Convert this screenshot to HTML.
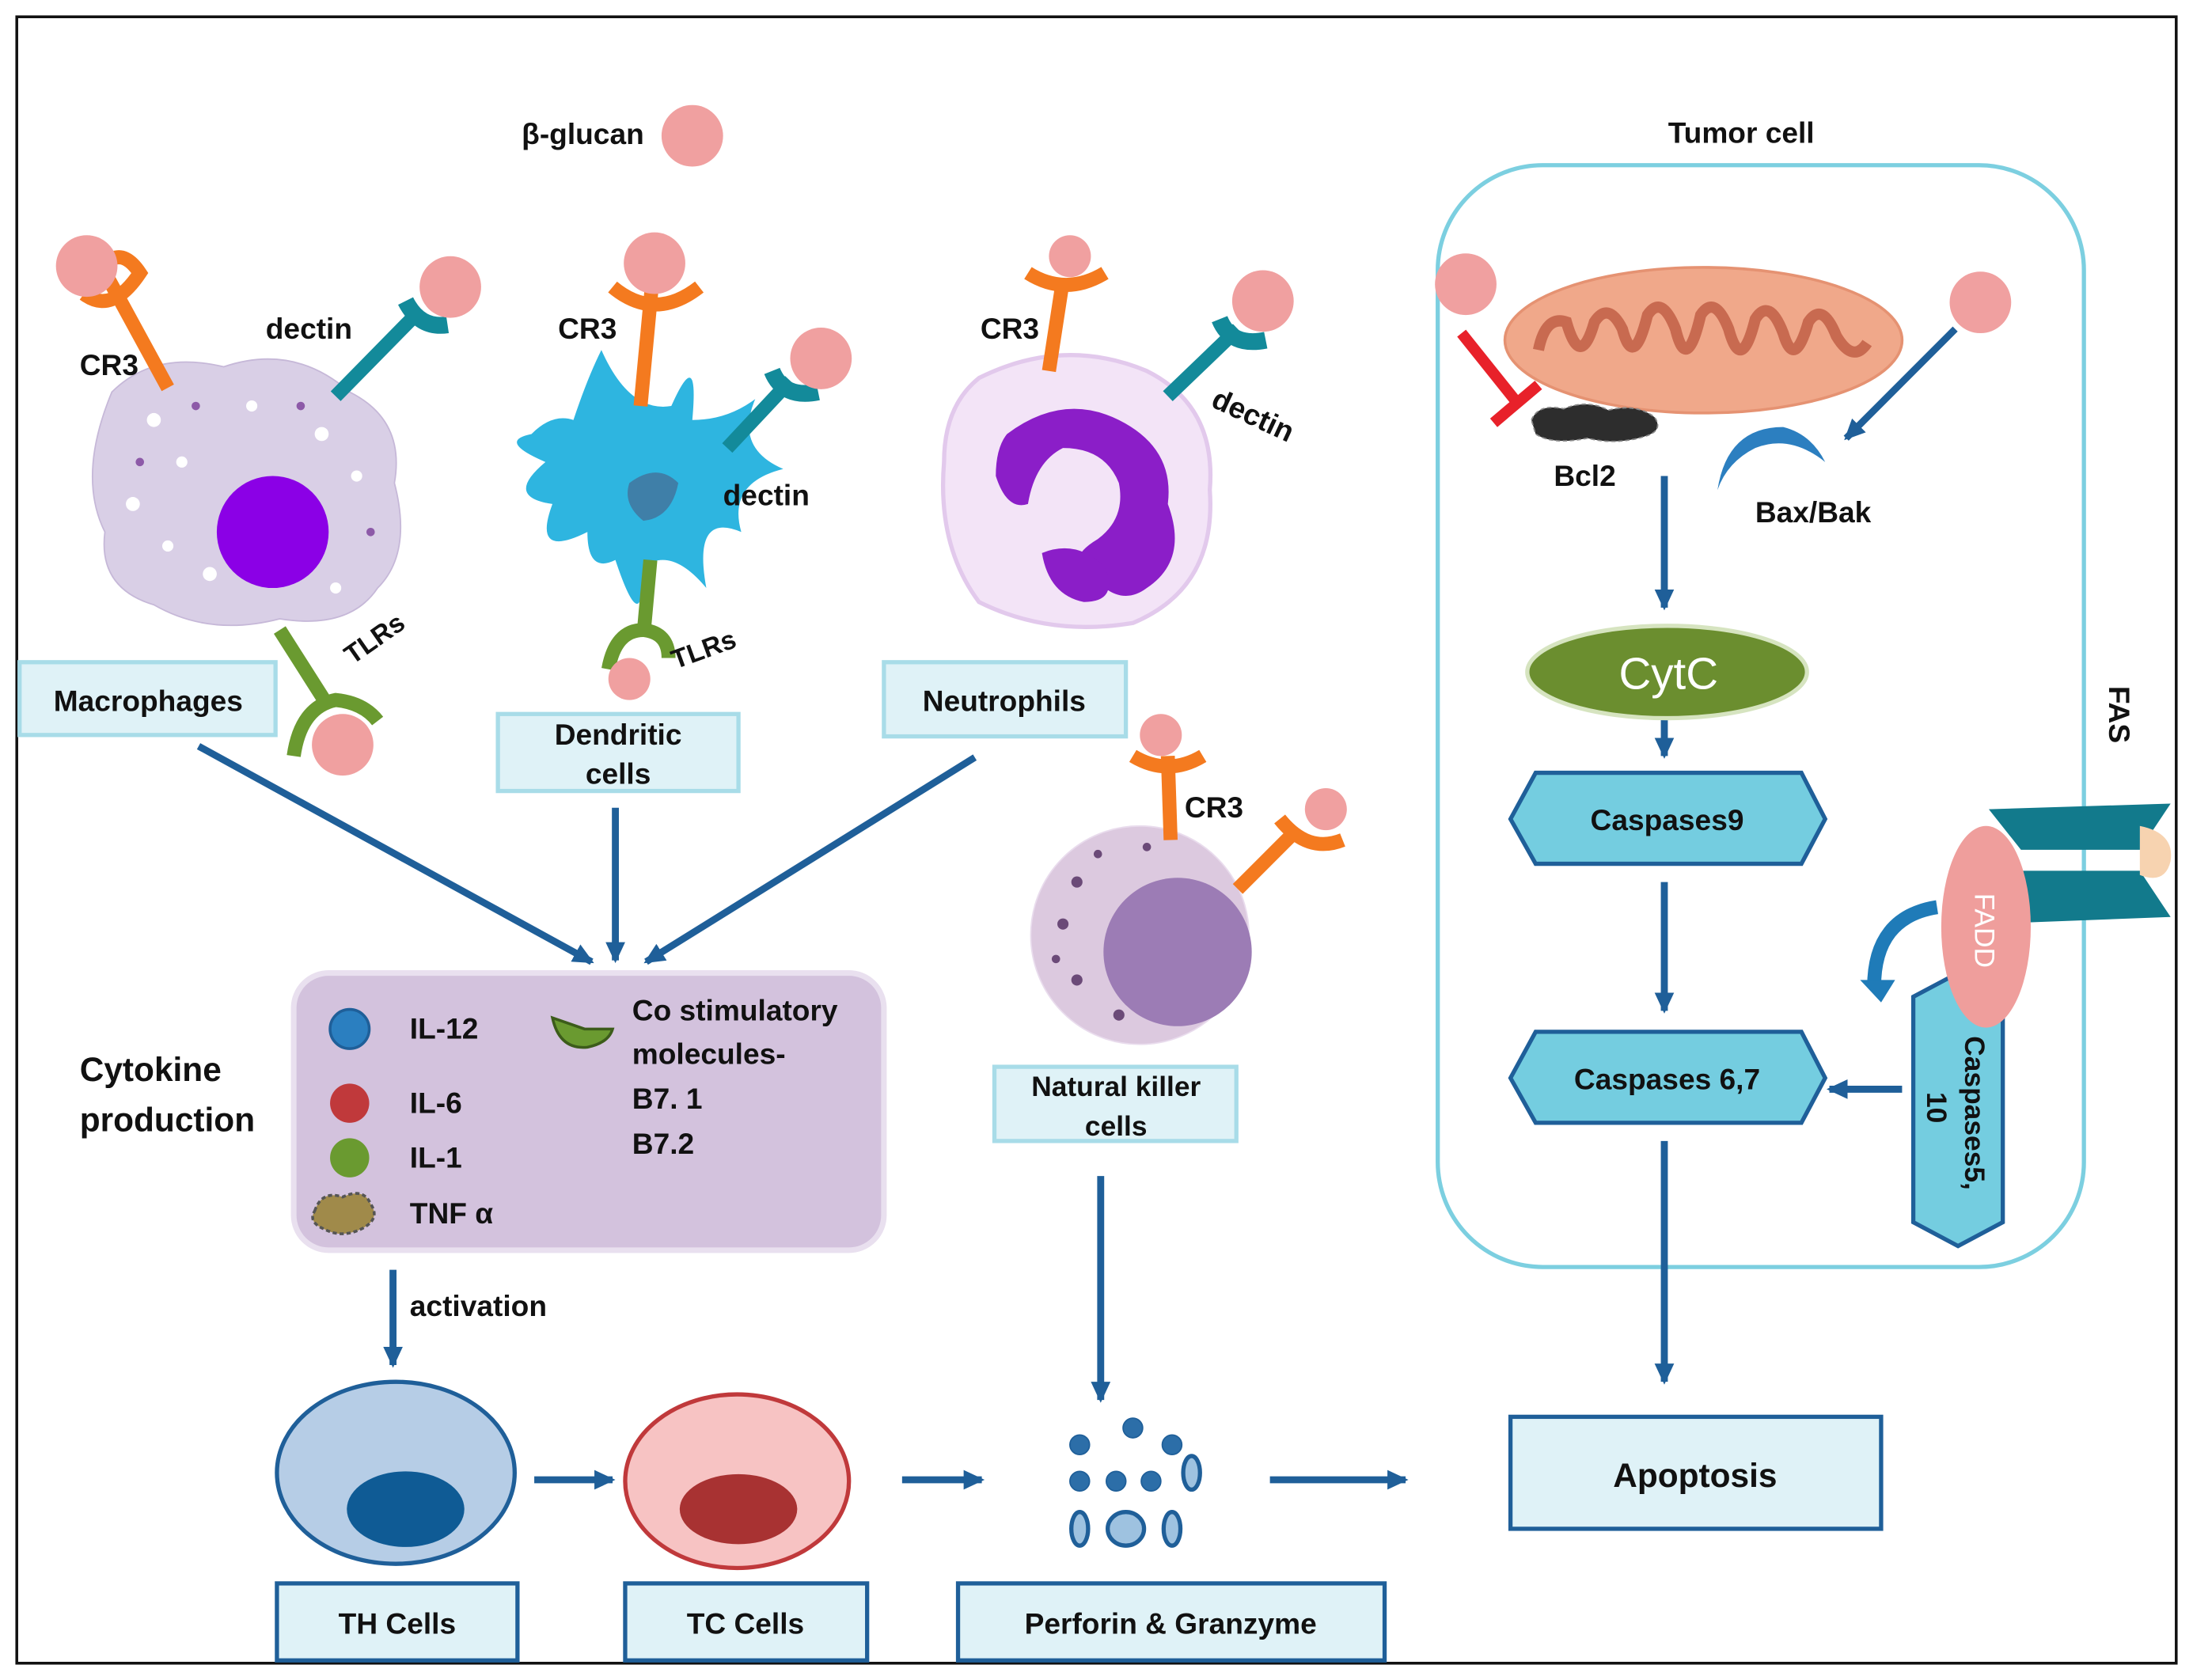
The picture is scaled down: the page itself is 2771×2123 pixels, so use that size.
<!DOCTYPE html>
<html><head><meta charset="utf-8"><style>
html,body{margin:0;padding:0;background:#fff}
svg{display:block}
text{font-family:"Liberation Sans",sans-serif;font-weight:bold;fill:#111}
</style></head><body>
<svg width="2771" height="2123" viewBox="0 0 1568 1200" preserveAspectRatio="none" xmlns="http://www.w3.org/2000/svg">
<defs>
<marker id="ah" markerWidth="16" markerHeight="14" refX="13" refY="7" orient="auto" markerUnits="userSpaceOnUse">
<path d="M0,0 L15,7 L0,14 Z" fill="#1f5f99"/></marker>
</defs>
<rect x="0" y="0" width="1568" height="1200" fill="#fff"/>
<rect x="12" y="12" width="1544" height="1176" fill="none" stroke="#111" stroke-width="2"/>

<rect x="1028" y="118" width="462" height="787" rx="75" fill="none" stroke="#7ccfe0" stroke-width="3"/>
<text x="1245" y="102" font-size="21" text-anchor="middle">Tumor cell</text>

<text x="373" y="103" font-size="21">β-glucan</text>
<circle cx="495" cy="97" r="22" fill="#f0a0a0"/>

<path d="M80,280 Q110,250 160,262 Q210,245 250,280 Q290,300 282,345 Q295,395 270,420 Q250,450 200,442 Q150,455 110,432 Q70,420 75,380 Q55,340 80,280 Z" fill="#d9cfe6" stroke="#c6b8d8"/>
<g fill="#fff"><circle cx="110" cy="300" r="5"/><circle cx="130" cy="330" r="4"/><circle cx="95" cy="360" r="5"/><circle cx="230" cy="310" r="5"/><circle cx="255" cy="340" r="4"/><circle cx="150" cy="410" r="5"/><circle cx="240" cy="420" r="4"/><circle cx="120" cy="390" r="4"/><circle cx="180" cy="290" r="4"/></g>
<g fill="#8d5aa8"><circle cx="140" cy="290" r="3"/><circle cx="215" cy="290" r="3"/><circle cx="100" cy="330" r="3"/><circle cx="265" cy="380" r="3"/></g>
<circle cx="195" cy="380" r="40" fill="#8b00e6"/>
<line x1="78" y1="200" x2="120" y2="277" stroke="#f47a1f" stroke-width="10"/>
<path d="M60,210 Q80,225 100,195 Q90,180 80,185" fill="none" stroke="#f47a1f" stroke-width="10"/>
<circle cx="62" cy="190" r="22" fill="#f0a0a0"/>
<text x="57" y="268" font-size="21">CR3</text>
<line x1="240" y1="283" x2="300" y2="222" stroke="#138a9a" stroke-width="10"/>
<path d="M290,215 Q300,235 320,232" fill="none" stroke="#138a9a" stroke-width="12"/>
<circle cx="322" cy="205" r="22" fill="#f0a0a0"/>
<text x="190" y="242" font-size="21">dectin</text>
<line x1="200" y1="450" x2="235" y2="505" stroke="#6a9a30" stroke-width="10"/>
<path d="M210,540 Q215,505 240,500 Q260,502 270,515" fill="none" stroke="#6a9a30" stroke-width="10"/>
<circle cx="245" cy="532" r="22" fill="#f0a0a0"/>
<text x="252" y="475" font-size="19" transform="rotate(-35 252 475)">TLRs</text>

<path d="M430,250 Q450,295 480,290 Q500,245 495,300 Q520,300 540,285 Q525,320 560,335 Q520,345 530,380 Q495,365 505,420 Q480,390 460,405 Q460,460 440,400 Q420,410 420,380 Q380,400 395,360 Q360,355 390,330 Q355,315 380,310 Q395,295 410,300 Q420,270 430,250 Z" fill="#2eb5e0"/>
<path d="M450,345 Q470,330 485,345 Q480,370 460,372 Q445,360 450,345 Z" fill="#3f7fa8"/>
<line x1="458" y1="290" x2="466" y2="205" stroke="#f47a1f" stroke-width="10"/>
<path d="M438,205 Q468,230 500,205" fill="none" stroke="#f47a1f" stroke-width="10"/>
<circle cx="468" cy="188" r="22" fill="#f0a0a0"/>
<text x="399" y="242" font-size="21">CR3</text>
<line x1="520" y1="320" x2="565" y2="272" stroke="#138a9a" stroke-width="10"/>
<path d="M552,265 Q560,285 585,280" fill="none" stroke="#138a9a" stroke-width="12"/>
<circle cx="587" cy="256" r="22" fill="#f0a0a0"/>
<text x="517" y="361" font-size="21">dectin</text>
<line x1="465" y1="400" x2="460" y2="455" stroke="#6a9a30" stroke-width="10"/>
<path d="M435,478 Q440,450 460,450 Q478,452 478,470" fill="none" stroke="#6a9a30" stroke-width="10"/>
<circle cx="450" cy="485" r="15" fill="#f0a0a0"/>
<text x="483" y="478" font-size="19" transform="rotate(-20 483 478)">TLRs</text>

<path d="M700,270 Q760,240 820,265 Q870,290 865,350 Q870,420 810,445 Q750,455 700,430 Q670,390 675,330 Q675,290 700,270 Z" fill="#f3e4f7" stroke="#e2c9ec" stroke-width="3"/>
<path d="M720,310 Q760,280 800,300 Q840,320 835,360 Q850,400 820,420 Q800,435 780,410 Q760,400 785,385 Q805,370 800,345 Q790,320 760,320 Q740,330 735,360 Q720,365 712,340 Q712,320 720,310 Z" fill="#8b1ec8"/>
<path d="M745,395 Q770,385 790,405 Q800,430 775,430 Q750,425 745,395 Z" fill="#8b1ec8"/>
<line x1="750" y1="265" x2="760" y2="200" stroke="#f47a1f" stroke-width="10"/>
<path d="M735,195 Q762,212 790,195" fill="none" stroke="#f47a1f" stroke-width="10"/>
<circle cx="765" cy="183" r="15" fill="#f0a0a0"/>
<text x="701" y="242" font-size="21">CR3</text>
<line x1="835" y1="283" x2="885" y2="235" stroke="#138a9a" stroke-width="10"/>
<path d="M872,228 Q880,248 905,243" fill="none" stroke="#138a9a" stroke-width="12"/>
<circle cx="903" cy="215" r="22" fill="#f0a0a0"/>
<text x="865" y="290" font-size="21" transform="rotate(25 865 290)">dectin</text>

<circle cx="815" cy="668" r="78" fill="#dcc9df" stroke="#e9dced"/>
<circle cx="842" cy="680" r="53" fill="#9c7cb5"/>
<g fill="#6b4a78"><circle cx="770" cy="630" r="4"/><circle cx="760" cy="660" r="4"/><circle cx="785" cy="610" r="3"/><circle cx="770" cy="700" r="4"/><circle cx="800" cy="725" r="4"/><circle cx="755" cy="685" r="3"/><circle cx="820" cy="605" r="3"/></g>
<line x1="837" y1="600" x2="835" y2="540" stroke="#f47a1f" stroke-width="10"/>
<path d="M810,540 Q835,555 860,540" fill="none" stroke="#f47a1f" stroke-width="10"/>
<circle cx="830" cy="525" r="15" fill="#f0a0a0"/>
<line x1="885" y1="635" x2="925" y2="595" stroke="#f47a1f" stroke-width="10"/>
<path d="M915,585 Q935,610 960,600" fill="none" stroke="#f47a1f" stroke-width="10"/>
<circle cx="948" cy="578" r="15" fill="#f0a0a0"/>
<text x="847" y="584" font-size="21">CR3</text>

<g fill="#dff2f7" stroke="#a8dce8" stroke-width="3">
<rect x="14" y="473" width="183" height="52"/>
<rect x="356" y="510" width="172" height="55"/>
<rect x="632" y="473" width="173" height="53"/>
<rect x="711" y="762" width="173" height="53"/>
</g>
<text x="106" y="508" font-size="21" text-anchor="middle">Macrophages</text>
<text x="442" y="532" font-size="21" text-anchor="middle">Dendritic</text>
<text x="442" y="560" font-size="21" text-anchor="middle">cells</text>
<text x="718" y="508" font-size="21" text-anchor="middle">Neutrophils</text>
<text x="798" y="783" font-size="20" text-anchor="middle">Natural killer</text>
<text x="798" y="811" font-size="20" text-anchor="middle">cells</text>

<rect x="210" y="695" width="422" height="198" rx="25" fill="#d3c2dd" stroke="#e9e0ef" stroke-width="4"/>
<text x="57" y="772" font-size="24">Cytokine</text>
<text x="57" y="808" font-size="24">production</text>
<circle cx="250" cy="735" r="14" fill="#2b7fc0" stroke="#1f5f99" stroke-width="2"/>
<circle cx="250" cy="788" r="14" fill="#c0393b"/>
<circle cx="250" cy="827" r="14" fill="#6a9a30"/>
<path d="M225,865 Q230,850 245,855 Q260,848 265,860 Q272,870 260,877 Q245,885 232,878 Q220,873 225,865 Z" fill="#a08a4a" stroke="#555" stroke-width="2" stroke-dasharray="3 2"/>
<text x="293" y="742" font-size="21">IL-12</text>
<text x="293" y="795" font-size="21">IL-6</text>
<text x="293" y="834" font-size="21">IL-1</text>
<text x="293" y="874" font-size="21">TNF α</text>
<path d="M395,727 Q400,750 420,748 Q435,745 438,735 L418,735 Z" fill="#6a9a30" stroke="#3c5c1a" stroke-width="2"/>
<text x="452" y="729" font-size="21">Co stimulatory</text>
<text x="452" y="760" font-size="21">molecules-</text>
<text x="452" y="792" font-size="21">B7. 1</text>
<text x="452" y="824" font-size="21">B7.2</text>

<g stroke="#1f5f99" stroke-width="5" fill="none" marker-end="url(#ah)">
<line x1="142" y1="533" x2="423" y2="687"/>
<line x1="440" y1="577" x2="440" y2="686"/>
<line x1="697" y1="541" x2="462" y2="687"/>
<line x1="281" y1="907" x2="281" y2="975"/>
<line x1="382" y1="1057" x2="438" y2="1057"/>
<line x1="645" y1="1057" x2="702" y2="1057"/>
<line x1="908" y1="1057" x2="1005" y2="1057"/>
<line x1="787" y1="840" x2="787" y2="1000"/>
<line x1="1190" y1="340" x2="1190" y2="434"/>
<line x1="1190" y1="513" x2="1190" y2="540"/>
<line x1="1190" y1="630" x2="1190" y2="722"/>
<line x1="1190" y1="815" x2="1190" y2="987"/>
<line x1="1360" y1="778" x2="1308" y2="778"/>
<line x1="1398" y1="235" x2="1320" y2="313"/>
</g>
<text x="293" y="940" font-size="21">activation</text>

<ellipse cx="283" cy="1052" rx="85" ry="65" fill="#b6cde6" stroke="#1f5f99" stroke-width="3"/>
<ellipse cx="290" cy="1078" rx="42" ry="27" fill="#0f5b95"/>
<ellipse cx="527" cy="1058" rx="80" ry="62" fill="#f7c3c3" stroke="#c0393b" stroke-width="3"/>
<ellipse cx="528" cy="1078" rx="42" ry="25" fill="#a83232"/>
<g fill="#2c6ea8" stroke="#1f5f99">
<circle cx="772" cy="1032" r="7"/><circle cx="810" cy="1020" r="7"/><circle cx="838" cy="1032" r="7"/>
<circle cx="772" cy="1058" r="7"/><circle cx="798" cy="1058" r="7"/><circle cx="823" cy="1058" r="7"/>
</g>
<g fill="#9ec2e0" stroke="#1f5f99" stroke-width="3">
<ellipse cx="852" cy="1052" rx="6" ry="12"/><ellipse cx="772" cy="1092" rx="6" ry="12"/><ellipse cx="805" cy="1092" rx="13" ry="12"/><ellipse cx="838" cy="1092" rx="6" ry="12"/>
</g>
<g fill="#dff2f7" stroke="#1f5f99" stroke-width="3">
<rect x="198" y="1131" width="172" height="55"/>
<rect x="447" y="1131" width="173" height="55"/>
<rect x="685" y="1131" width="305" height="55"/>
<rect x="1080" y="1012" width="265" height="80"/>
</g>
<text x="284" y="1167" font-size="21" text-anchor="middle">TH Cells</text>
<text x="533" y="1167" font-size="21" text-anchor="middle">TC Cells</text>
<text x="837" y="1167" font-size="21" text-anchor="middle">Perforin  &amp; Granzyme</text>
<text x="1212" y="1062" font-size="24" text-anchor="middle">Apoptosis</text>

<ellipse cx="1218" cy="243" rx="142" ry="52" fill="#f0a88a" stroke="#e59272" stroke-width="2"/>
<path d="M1100,250 Q1105,225 1120,230 Q1130,265 1140,230 Q1150,215 1160,235 Q1168,265 1178,225 Q1188,210 1198,235 Q1206,268 1216,225 Q1226,210 1236,235 Q1245,268 1255,228 Q1265,212 1275,238 Q1283,265 1293,230 Q1303,215 1313,240 Q1325,260 1335,245" fill="none" stroke="#c86a50" stroke-width="8"/>
<circle cx="1048" cy="203" r="22" fill="#f0a0a0"/>
<circle cx="1416" cy="216" r="22" fill="#f0a0a0"/>
<line x1="1045" y1="238" x2="1085" y2="288" stroke="#e8212a" stroke-width="8"/>
<line x1="1068" y1="302" x2="1100" y2="275" stroke="#e8212a" stroke-width="8"/>
<path d="M1095,300 Q1100,288 1118,292 Q1135,285 1150,293 Q1170,288 1183,298 Q1190,308 1175,312 Q1155,318 1135,313 Q1110,318 1098,310 Z" fill="#2d2d2d" stroke="#888" stroke-dasharray="3 2"/>
<text x="1111" y="347" font-size="21">Bcl2</text>
<path d="M1228,350 Q1235,305 1275,305 Q1295,310 1305,330 Q1280,310 1255,320 Q1235,330 1228,350 Z" fill="#2c7fc0"/>
<text x="1255" y="373" font-size="21">Bax/Bak</text>

<ellipse cx="1192" cy="480" rx="100" ry="33" fill="#6b8e2f" stroke="#d6e4c0" stroke-width="3"/>
<text x="1193" y="492" font-size="32" text-anchor="middle" style="fill:#fff;font-weight:normal">CytC</text>

<polygon points="1080,585 1098,552 1288,552 1305,585 1288,617 1098,617" fill="#74cde0" stroke="#1f5f99" stroke-width="3"/>
<text x="1192" y="593" font-size="21" text-anchor="middle">Caspases9</text>
<polygon points="1080,770 1098,737 1288,737 1305,770 1288,802 1098,802" fill="#74cde0" stroke="#1f5f99" stroke-width="3"/>
<text x="1192" y="778" font-size="21" text-anchor="middle">Caspases 6,7</text>
<polygon points="1368,712 1400,695 1432,712 1432,873 1400,890 1368,873" fill="#74cde0" stroke="#1f5f99" stroke-width="3"/>
<text x="1405" y="740" font-size="20" transform="rotate(90 1405 740)">Caspases5,</text>
<text x="1378" y="780" font-size="20" transform="rotate(90 1378 780)">10</text>

<polygon points="1422,578 1552,574 1530,607 1445,607" fill="#127a8c"/>
<polygon points="1440,622 1530,622 1552,655 1420,660" fill="#127a8c"/>
<path d="M1530,590 Q1555,595 1552,615 Q1548,632 1530,625 Z" fill="#f7d3b0"/>
<text x="1508" y="490" font-size="21" transform="rotate(90 1508 490)">FAS</text>
<ellipse cx="1420" cy="662" rx="32" ry="72" fill="#ef9e9c"/>
<text x="1412" y="638" font-size="20" transform="rotate(90 1412 638)" style="fill:#fff;font-weight:normal">FADD</text>
<path d="M1385,648 Q1340,655 1340,705" fill="none" stroke="#1f7bb8" stroke-width="10"/>
<polygon points="1330,700 1355,700 1345,716" fill="#1f7bb8"/>
</svg>
</body></html>
